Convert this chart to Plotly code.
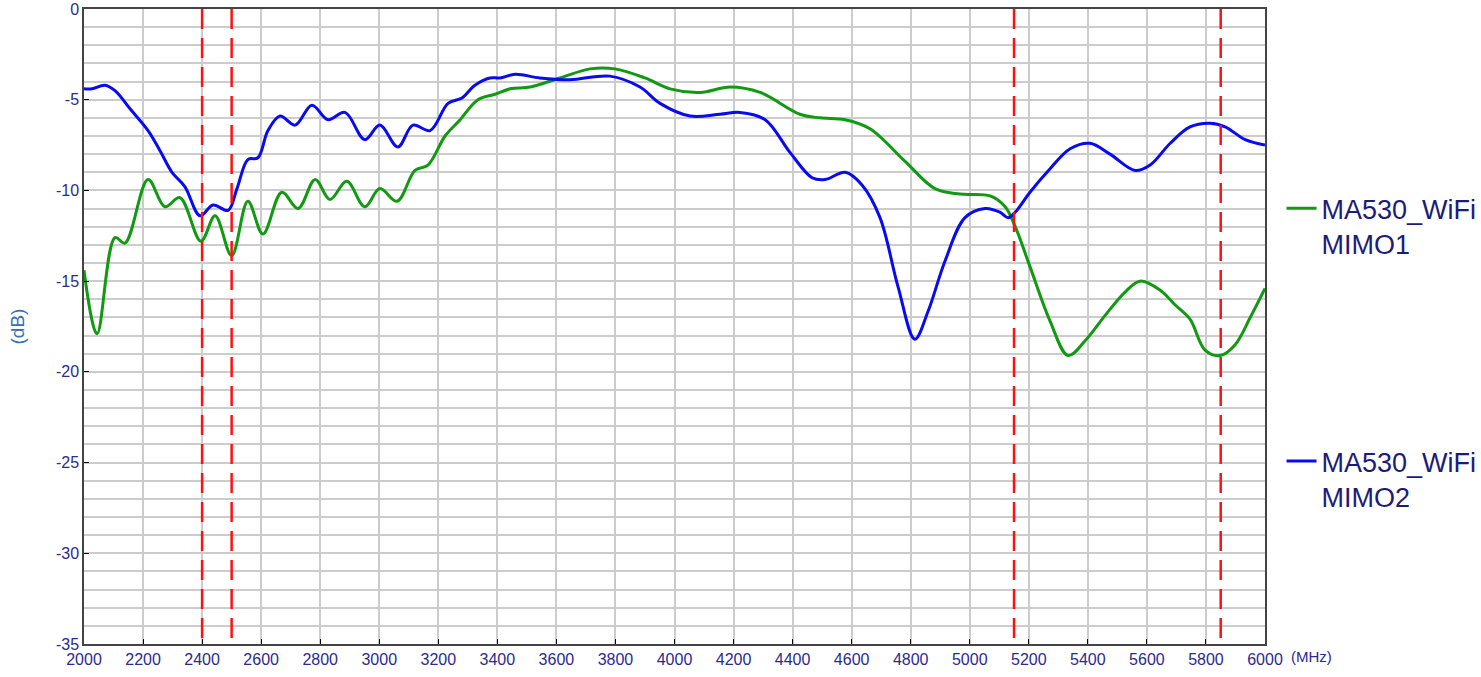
import plotly.graph_objects as go

freq_mimo1 = [2000, 2044, 2105, 2139, 2217, 2274, 2325, 2396, 2444, 2500, 2555, 2606, 2670, 2725, 2783,
              2833, 2890, 2951, 3002, 3060, 3121, 3165, 3223, 3274, 3334, 3392, 3443, 3511, 3612, 3714,
              3798, 3900, 3985, 4087, 4188, 4290, 4425, 4493, 4578, 4662, 4781, 4882, 4967, 5069, 5120,
              5154, 5204, 5272, 5333, 5390, 5458, 5526, 5577, 5645, 5695, 5746, 5797, 5848, 5899, 5950, 6000]
db_mimo1 = [-14.4, -17.9, -12.6, -12.9, -9.4, -10.9, -10.4, -12.8, -11.4, -13.6, -10.6, -12.4, -10.1, -11.0, -9.4,
            -10.5, -9.5, -10.9, -9.9, -10.6, -8.9, -8.6, -7.0, -6.1, -5.0, -4.7, -4.4, -4.3, -3.8, -3.3,
            -3.3, -3.8, -4.4, -4.6, -4.3, -4.6, -5.8, -6.0, -6.1, -6.6, -8.4, -9.9, -10.2, -10.3, -10.9,
            -12.0, -14.2, -17.2, -19.1, -18.3, -16.9, -15.6, -15.0, -15.5, -16.3, -17.1, -18.8, -19.1, -18.5, -17.0, -15.4]

freq_mimo2 = [2000, 2027, 2071, 2105, 2156, 2217, 2257, 2298, 2342, 2393, 2437, 2488, 2518, 2555, 2589,
              2623, 2664, 2715, 2772, 2826, 2884, 2951, 3002, 3063, 3114, 3172, 3233, 3280, 3324, 3375,
              3409, 3460, 3544, 3646, 3781, 3883, 3951, 4053, 4154, 4222, 4307, 4391, 4466, 4510, 4578,
              4635, 4696, 4757, 4814, 4858, 4916, 4984, 5052, 5102, 5130, 5154, 5204, 5272, 5340, 5407,
              5475, 5560, 5611, 5679, 5746, 5814, 5865, 5933, 6000]
db_mimo2 = [-4.4, -4.4, -4.2, -4.5, -5.5, -6.7, -7.8, -9.0, -9.8, -11.4, -10.8, -11.1, -9.9, -8.3, -8.2,
            -6.7, -5.9, -6.4, -5.3, -6.1, -5.7, -7.2, -6.4, -7.6, -6.4, -6.7, -5.2, -4.9, -4.2, -3.8,
            -3.8, -3.6, -3.8, -3.9, -3.7, -4.3, -5.2, -5.9, -5.8, -5.7, -6.1, -7.9, -9.3, -9.4, -9.0,
            -9.7, -11.5, -15.3, -18.2, -16.7, -13.9, -11.5, -11.0, -11.2, -11.5, -11.2, -10.1, -8.8, -7.7, -7.4,
            -8.0, -8.9, -8.6, -7.4, -6.5, -6.3, -6.5, -7.2, -7.5]

band_edges = [2400, 2500, 5150, 5850]
x_ticks = list(range(2000, 6001, 200))
y_ticks = [0, -5, -10, -15, -20, -25, -30, -35]

label_color = "#2b2b8f"
legend_font = dict(family="Liberation Sans, Arial", size=27, color="#1c1c78")

fig = go.Figure()
fig.add_trace(go.Scatter(x=freq_mimo1, y=db_mimo1, mode="lines", name="MA530_WiFi<br>MIMO1",
                         line=dict(color="#119911", width=3, shape="spline", smoothing=1.0),
                         legend="legend", showlegend=True))
fig.add_trace(go.Scatter(x=freq_mimo2, y=db_mimo2, mode="lines", name="MA530_WiFi<br>MIMO2",
                         line=dict(color="#0a0aee", width=3, shape="spline", smoothing=1.0),
                         legend="legend2", showlegend=True))

for xe in band_edges:
    fig.add_shape(type="line", xref="x", yref="y", x0=xe, x1=xe, y0=0, y1=-35,
                  line=dict(color="#ff1010", width=2.5, dash="20px,9px"))

fig.update_layout(
    width=1481, height=677,
    margin=dict(l=84, r=216, t=9, b=33, autoexpand=False),
    showlegend=True,
    paper_bgcolor="white", plot_bgcolor="white",
    font=dict(family="Liberation Sans, Arial", size=16, color=label_color),
    legend=dict(x=1.014, y=0.724, xanchor="left", yanchor="top", font=legend_font,
                bgcolor="rgba(0,0,0,0)", itemwidth=30, valign="top", tracegroupgap=0),
    legend2=dict(x=1.014, y=0.326, xanchor="left", yanchor="top", font=legend_font,
                 bgcolor="rgba(0,0,0,0)", itemwidth=30, valign="top", tracegroupgap=0),
    xaxis=dict(range=[2000, 6000], tickvals=x_ticks, ticktext=[str(v) for v in x_ticks],
               showgrid=True, gridcolor="#cccccc", gridwidth=1.5, automargin=False,
               ticks="inside", ticklen=5, tickcolor="#000000", ticklabeloverflow="allow",
               showline=True, linecolor="#444444", linewidth=1.5, mirror=True,
               zeroline=False, tickfont=dict(size=16, color=label_color)),
    yaxis=dict(range=[-35, 0], tickvals=y_ticks, ticktext=[str(v) for v in y_ticks],
               showgrid=True, gridcolor="#cccccc", gridwidth=1.5, automargin=False,
               minor=dict(dtick=1, showgrid=True, gridcolor="#cccccc", gridwidth=1.5),
               ticks="inside", ticklen=5, tickcolor="#000000", ticklabeloverflow="allow",
               showline=True, linecolor="#444444", linewidth=1.5, mirror=True,
               zeroline=False, tickfont=dict(size=16, color=label_color),
               title=dict(text="(dB)", font=dict(size=19, color="#3a70b0"), standoff=26)),
)

fig.add_annotation(text="(MHz)", xref="paper", yref="paper", x=1.02, y=0, xanchor="left",
                   yanchor="top", yshift=-2, showarrow=False,
                   font=dict(size=15, color=label_color))

fig.write_html("out.html", config={"displayModeBar": False},
               post_script="document.body.style.margin='0';")
